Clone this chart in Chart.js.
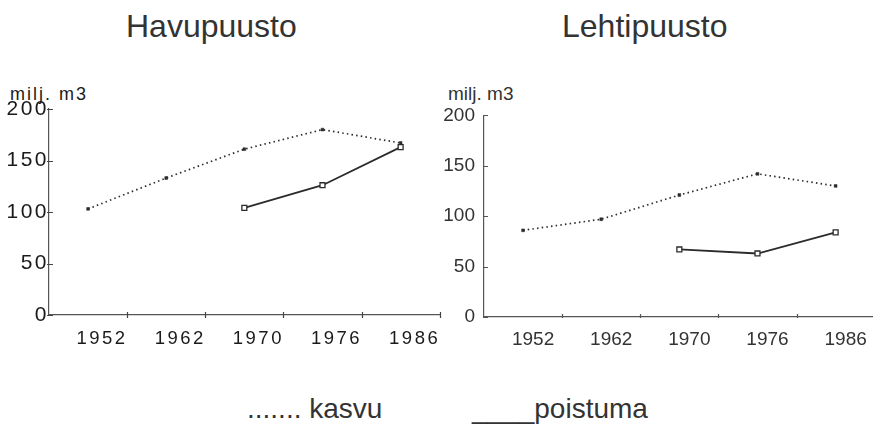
<!DOCTYPE html>
<html>
<head>
<meta charset="utf-8">
<script src="https://cdn.jsdelivr.net/npm/chart.js@4.4.1/dist/chart.umd.min.js"></script>
<style>
  html, body { margin: 0; padding: 0; background: #fff; }
  body { width: 873px; height: 426px; position: relative; overflow: hidden; font-family: "Liberation Sans", Arial, sans-serif; color: #333; }
  .txt { position: absolute; white-space: nowrap; }
  .title { font-size: 32px; line-height: 32px; top: 10px; }
  .unit { top: 84px; line-height: 20px; }
  .legend { font-size: 28px; line-height: 28px; top: 395px; }
  canvas { position: absolute; top: 95px; }
</style>
</head>
<body>
<div class="txt title" style="left:126px">Havupuusto</div>
<div class="txt title" style="left:562px">Lehtipuusto</div>
<div class="txt unit" style="left:10px; font-size:18px; letter-spacing:2px; color:#1a1a1a">milj. m3</div>
<div class="txt unit" style="left:448px; font-size:19px">milj. m3</div>
<div class="txt legend" style="left:247px">....... kasvu</div>
<div class="txt legend" style="left:472px">____poistuma</div>

<canvas id="havu" width="445" height="260" style="left:0"></canvas>
<canvas id="lehti" width="440" height="260" style="left:440px"></canvas>

<script>
// values, milj. m3
const years = ['1952', '1962', '1970', '1976', '1986'];
const yTicks = [0, 50, 100, 150, 200];

const havuKasvu = [103, 133, 161, 180, 167];
const havuPoistuma = [null, null, 104, 126, 163];

const lehtiKasvu = [86, 97, 121, 142, 130];
const lehtiPoistuma = [null, null, 67, 63, 84];

const ink = '#2b2b2b';

// canvas letter spacing for the wide-set tick font on the left chart
const spacing = {
  id: 'spacing',
  beforeDraw(chart, args, opts) { chart.ctx.letterSpacing = opts.value || '0px'; },
  afterDraw(chart) { chart.ctx.letterSpacing = '0px'; }
};

// small tick marks that cross the axis lines
const crossTicks = {
  id: 'crossTicks',
  afterDraw(chart, args, opts) {
    const { ctx, chartArea, scales: { x, y } } = chart;
    const half = (x.getPixelForTick(1) - x.getPixelForTick(0)) / 2;
    ctx.save();
    ctx.strokeStyle = opts.color;
    ctx.lineWidth = 1.2;
    ctx.beginPath();
    x.ticks.forEach((t, i) => {
      const px = Math.round(x.getPixelForTick(i) + half) + 0.5;
      ctx.moveTo(px, chartArea.bottom + opts.xDown);
      ctx.lineTo(px, chartArea.bottom - opts.xUp);
    });
    y.ticks.forEach((t, i) => {
      const py = Math.round(y.getPixelForTick(i)) + 0.5;
      ctx.moveTo(chartArea.left - opts.yOut, py);
      ctx.lineTo(chartArea.left + opts.yIn, py);
    });
    ctx.stroke();
    ctx.restore();
  }
};

function makeChart(id, kasvu, poistuma, cfg) {
  return new Chart(document.getElementById(id), {
    type: 'line',
    data: {
      labels: years,
      datasets: [
        {
          label: 'kasvu',
          data: kasvu,
          borderColor: ink,
          borderWidth: 1.7,
          borderDash: [1.5, 3.2],
          pointStyle: 'rect',
          pointRadius: 2,
          pointBackgroundColor: ink,
          pointBorderColor: ink,
          pointBorderWidth: 0.5,
          tension: 0
        },
        {
          label: 'poistuma',
          data: poistuma,
          borderColor: ink,
          borderWidth: 1.8,
          pointStyle: 'rect',
          pointRadius: 3.5,
          pointBackgroundColor: '#fff',
          pointBorderColor: ink,
          pointBorderWidth: 1.3,
          tension: 0
        }
      ]
    },
    options: {
      responsive: false,
      animation: false,
      events: [],
      layout: { padding: cfg.padding },
      plugins: {
        legend: { display: false },
        tooltip: { enabled: false },
        spacing: { value: cfg.letterSpacing },
        crossTicks: cfg.marks
      },
      scales: {
        x: {
          type: 'category',
          offset: true,
          grid: { display: false, drawTicks: false, offset: true },
          border: { display: true, color: '#555', width: 1.2 },
          ticks: {
            color: cfg.labelColor,
            font: { family: 'Liberation Sans', size: cfg.xFont },
            padding: cfg.xPad,
            labelOffset: cfg.labelOffset,
            maxRotation: 0,
            autoSkip: false
          },
          afterFit(scale) { scale.height = cfg.xHeight; }
        },
        y: {
          min: 0,
          max: 200,
          afterBuildTicks(scale) { scale.ticks = yTicks.map(v => ({ value: v })); },
          grid: { display: false, drawTicks: false },
          border: { display: true, color: '#555', width: 1.2 },
          ticks: {
            color: cfg.labelColor,
            font: { family: 'Liberation Sans', size: cfg.yFont },
            padding: cfg.yPad
          },
          afterFit(scale) { scale.width = cfg.yWidth; }
        }
      }
    },
    plugins: [spacing, crossTicks]
  });
}

makeChart('havu', havuKasvu, havuPoistuma, {
  padding: { top: 14, right: 5, left: 0, bottom: 0 },
  letterSpacing: '2.5px',
  labelColor: '#1a1a1a',
  xFont: 18.5, yFont: 21,
  xPad: 13, yPad: 0,
  labelOffset: 14,
  xHeight: 40, yWidth: 49,
  marks: { color: '#444', xUp: 3, xDown: 3, yOut: 2, yIn: 4 }
});

makeChart('lehti', lehtiKasvu, lehtiPoistuma, {
  padding: { top: 17, right: 0, left: 0, bottom: 0 },
  letterSpacing: '0px',
  labelColor: '#333',
  xFont: 19, yFont: 19,
  xPad: 11, yPad: 9,
  labelOffset: 10,
  xHeight: 38, yWidth: 44,
  marks: { color: '#555', xUp: 3, xDown: 1, yOut: 0, yIn: 4 }
});
</script>
</body>
</html>
